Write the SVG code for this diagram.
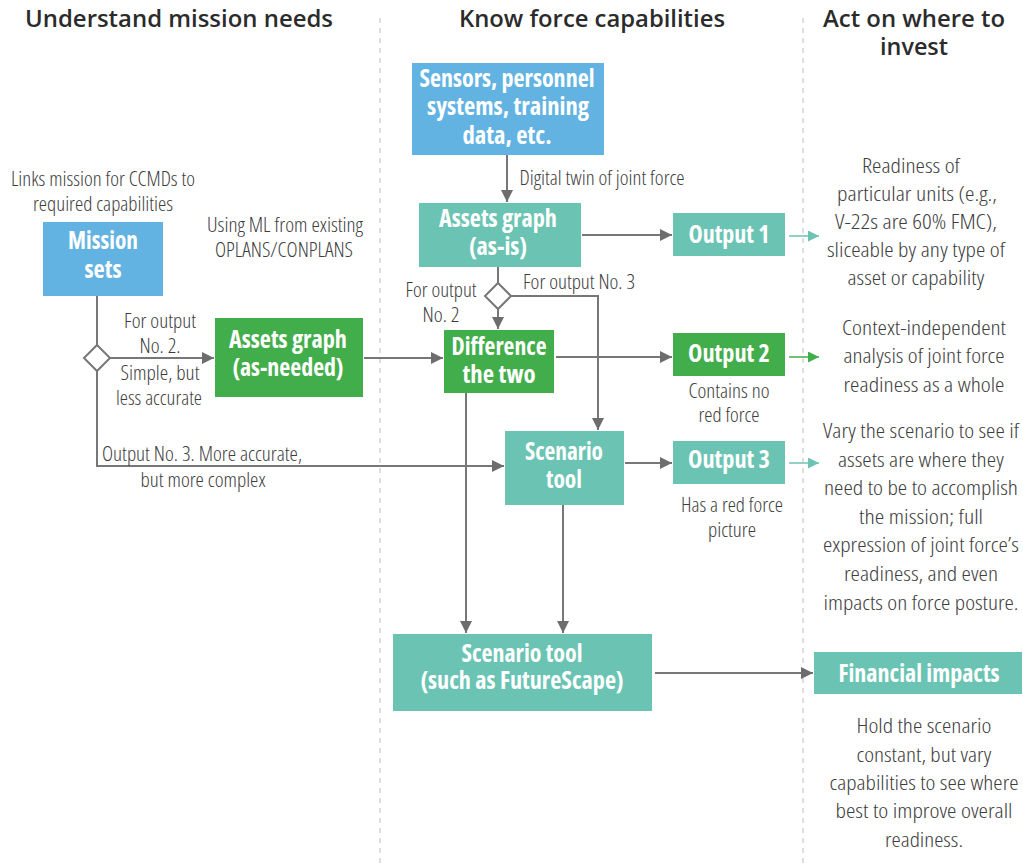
<svg xmlns="http://www.w3.org/2000/svg" width="1023" height="863" viewBox="0 0 1023 863">
<style>
.hd{font-family:"Open Sans","Liberation Sans",sans-serif;font-weight:600;font-size:23.5px;fill:#2b2b2b;text-anchor:middle}
.bx{font-family:"Open Sans","Liberation Sans",sans-serif;font-stretch:condensed;font-weight:700;font-size:24px;fill:#fff;text-anchor:middle}
.lb{font-family:"Open Sans","Liberation Sans",sans-serif;font-stretch:condensed;font-weight:300;font-size:20.5px;fill:#3d3d3d;text-anchor:middle}
.blue{fill:#62b3e2}
.teal{fill:#6bc4b3}
.green{fill:#42ae4b}
.ln{fill:none;stroke:#777;stroke-width:2}
.dash{stroke:#c8c8c8;stroke-width:1.2;stroke-dasharray:5 5}
.dia{fill:#fff;stroke:#777;stroke-width:2}
</style>
<defs>
<marker id="ag" markerUnits="userSpaceOnUse" markerWidth="13" markerHeight="13" refX="12" refY="6" orient="auto"><path d="M0,0 L12,6 L0,12 z" fill="#6d6d6d"/></marker>
<marker id="at" markerUnits="userSpaceOnUse" markerWidth="12" markerHeight="12" refX="11" refY="5.5" orient="auto"><path d="M0,0 L11,5.5 L0,11 z" fill="#6bc4b3"/></marker>
<marker id="agr" markerUnits="userSpaceOnUse" markerWidth="12" markerHeight="12" refX="11" refY="5.5" orient="auto"><path d="M0,0 L11,5.5 L0,11 z" fill="#42ae4b"/></marker>
</defs>
<rect width="1023" height="863" fill="#fff"/>
<g id="dividers">
<line class="dash" x1="380" y1="18" x2="380" y2="863"/>
<line class="dash" x1="803" y1="18" x2="803" y2="863"/>
</g>
<g id="headers">
<text class="hd" x="179" y="27" textLength="308" lengthAdjust="spacingAndGlyphs">Understand mission needs</text>
<text class="hd" x="592" y="27" textLength="266" lengthAdjust="spacingAndGlyphs">Know force capabilities</text>
<text class="hd" x="914" y="27" textLength="182" lengthAdjust="spacingAndGlyphs">Act on where to</text>
<text class="hd" x="914" y="55" textLength="68" lengthAdjust="spacingAndGlyphs">invest</text>
</g>
<g id="connectors">
<path class="ln" d="M507,155 L507,202" marker-end="url(#ag)"/>
<path class="ln" d="M582,235 L672,235" marker-end="url(#ag)"/>
<path class="ln" d="M498,267 L498,283"/>
<path class="ln" d="M498,309 L498,329" marker-end="url(#ag)"/>
<path class="ln" d="M511,296 L598,296 L598,430" marker-end="url(#ag)"/>
<path class="ln" d="M97,296 L97,345"/>
<path class="ln" d="M110,358 L214,358" marker-end="url(#ag)"/>
<path class="ln" d="M97,371 L97,466 L504,466" marker-end="url(#ag)"/>
<path class="ln" d="M364,358 L443,358" marker-end="url(#ag)"/>
<path class="ln" d="M556,357 L672,357" marker-end="url(#ag)"/>
<path class="ln" d="M466,393 L466,633" marker-end="url(#ag)"/>
<path class="ln" d="M625,463 L672,463" marker-end="url(#ag)"/>
<path class="ln" d="M563,505 L563,633" marker-end="url(#ag)"/>
<path class="ln" d="M655,673 L813,673" marker-end="url(#ag)"/>
<path d="M789,236 L819,236" stroke="#6bc4b3" stroke-width="1.5" marker-end="url(#at)"/>
<path d="M789,357 L819,357" stroke="#42ae4b" stroke-width="1.5" marker-end="url(#agr)"/>
<path d="M789,463 L819,463" stroke="#6bc4b3" stroke-width="1.5" marker-end="url(#at)"/>
<polygon class="dia" points="498,283 511,296 498,309 485,296"/>
<polygon class="dia" points="97,345 110,358 97,371 84,358"/>
<text class="lb" x="602" y="185" textLength="165" lengthAdjust="spacingAndGlyphs">Digital twin of joint force</text>
<text class="lb" x="441" y="297" textLength="71" lengthAdjust="spacingAndGlyphs">For output</text>
<text class="lb" x="441" y="322" textLength="37" lengthAdjust="spacingAndGlyphs">No. 2</text>
<text class="lb" x="579" y="289" textLength="112" lengthAdjust="spacingAndGlyphs">For output No. 3</text>
<text class="lb" x="160" y="328" textLength="72" lengthAdjust="spacingAndGlyphs">For output</text>
<text class="lb" x="160" y="353" textLength="41" lengthAdjust="spacingAndGlyphs">No. 2.</text>
<text class="lb" x="160" y="380" textLength="79" lengthAdjust="spacingAndGlyphs">Simple, but</text>
<text class="lb" x="159" y="405" textLength="86" lengthAdjust="spacingAndGlyphs">less accurate</text>
<text class="lb" x="202" y="461" textLength="200" lengthAdjust="spacingAndGlyphs">Output No. 3. More accurate,</text>
<text class="lb" x="203" y="487" textLength="125" lengthAdjust="spacingAndGlyphs">but more complex</text>
</g>
<g id="notes">
<text class="lb" x="103" y="186" textLength="184" lengthAdjust="spacingAndGlyphs">Links mission for CCMDs to</text>
<text class="lb" x="103" y="211" textLength="140" lengthAdjust="spacingAndGlyphs">required capabilities</text>
<text class="lb" x="285" y="232" textLength="156" lengthAdjust="spacingAndGlyphs">Using ML from existing</text>
<text class="lb" x="284" y="257" textLength="138" lengthAdjust="spacingAndGlyphs">OPLANS/CONPLANS</text>
<text class="lb" x="729" y="398" textLength="81" lengthAdjust="spacingAndGlyphs">Contains no</text>
<text class="lb" x="729" y="422" textLength="61" lengthAdjust="spacingAndGlyphs">red force</text>
<text class="lb" x="732" y="512" textLength="102" lengthAdjust="spacingAndGlyphs">Has a red force</text>
<text class="lb" x="732" y="537" textLength="48" lengthAdjust="spacingAndGlyphs">picture</text>
</g>
<g id="out1-text">
<text class="lb" x="911" y="173" textLength="98" lengthAdjust="spacingAndGlyphs">Readiness of</text>
<text class="lb" x="917" y="201" textLength="160" lengthAdjust="spacingAndGlyphs">particular units (e.g.,</text>
<text class="lb" x="916" y="229" textLength="162" lengthAdjust="spacingAndGlyphs">V-22s are 60% FMC),</text>
<text class="lb" x="916" y="257" textLength="178" lengthAdjust="spacingAndGlyphs">sliceable by any type of</text>
<text class="lb" x="916" y="285" textLength="137" lengthAdjust="spacingAndGlyphs">asset or capability</text>
</g>
<g id="out2-text">
<text class="lb" x="924" y="335" textLength="164" lengthAdjust="spacingAndGlyphs">Context-independent</text>
<text class="lb" x="924" y="363" textLength="161" lengthAdjust="spacingAndGlyphs">analysis of joint force</text>
<text class="lb" x="924" y="392" textLength="161" lengthAdjust="spacingAndGlyphs">readiness as a whole</text>
</g>
<g id="out3-text">
<text class="lb" x="921" y="438" textLength="196" lengthAdjust="spacingAndGlyphs">Vary the scenario to see if</text>
<text class="lb" x="921" y="467" textLength="166" lengthAdjust="spacingAndGlyphs">assets are where they</text>
<text class="lb" x="921" y="495" textLength="194" lengthAdjust="spacingAndGlyphs">need to be to accomplish</text>
<text class="lb" x="921" y="524" textLength="124" lengthAdjust="spacingAndGlyphs">the mission; full</text>
<text class="lb" x="921" y="552" textLength="196" lengthAdjust="spacingAndGlyphs">expression of joint force’s</text>
<text class="lb" x="921" y="581" textLength="154" lengthAdjust="spacingAndGlyphs">readiness, and even</text>
<text class="lb" x="921" y="610" textLength="195" lengthAdjust="spacingAndGlyphs">impacts on force posture.</text>
</g>
<g id="fin-text">
<text class="lb" x="924" y="733" textLength="135" lengthAdjust="spacingAndGlyphs">Hold the scenario</text>
<text class="lb" x="924" y="762" textLength="135" lengthAdjust="spacingAndGlyphs">constant, but vary</text>
<text class="lb" x="924" y="790" textLength="189" lengthAdjust="spacingAndGlyphs">capabilities to see where</text>
<text class="lb" x="924" y="818" textLength="177" lengthAdjust="spacingAndGlyphs">best to improve overall</text>
<text class="lb" x="924" y="847" textLength="78" lengthAdjust="spacingAndGlyphs">readiness.</text>
</g>
<g id="sensors">
<rect class="blue" x="412" y="63" width="192" height="92"/>
<text class="bx" x="507" y="87" textLength="175" lengthAdjust="spacingAndGlyphs">Sensors, personnel</text>
<text class="bx" x="508" y="115" textLength="162" lengthAdjust="spacingAndGlyphs">systems, training</text>
<text class="bx" x="507" y="144" textLength="89" lengthAdjust="spacingAndGlyphs">data, etc.</text>
</g>
<g id="mission-sets">
<rect class="blue" x="43" y="222" width="120" height="74"/>
<text class="bx" x="103" y="249" textLength="70" lengthAdjust="spacingAndGlyphs">Mission</text>
<text class="bx" x="103" y="278" textLength="37" lengthAdjust="spacingAndGlyphs">sets</text>
</g>
<g id="assets-as-is">
<rect class="teal" x="419" y="203" width="162" height="64"/>
<text class="bx" x="498" y="227" textLength="118" lengthAdjust="spacingAndGlyphs">Assets graph</text>
<text class="bx" x="498" y="255" textLength="58" lengthAdjust="spacingAndGlyphs">(as-is)</text>
</g>
<g id="output1">
<rect class="teal" x="673" y="213" width="112" height="43"/>
<text class="bx" x="729" y="243" textLength="81" lengthAdjust="spacingAndGlyphs">Output 1</text>
</g>
<g id="assets-as-needed">
<rect class="green" x="215" y="318" width="148" height="79"/>
<text class="bx" x="288" y="348" textLength="118" lengthAdjust="spacingAndGlyphs">Assets graph</text>
<text class="bx" x="288" y="376" textLength="111" lengthAdjust="spacingAndGlyphs">(as-needed)</text>
</g>
<g id="difference">
<rect class="green" x="444" y="330" width="110" height="63"/>
<text class="bx" x="499" y="355" textLength="95" lengthAdjust="spacingAndGlyphs">Difference</text>
<text class="bx" x="499" y="383" textLength="73" lengthAdjust="spacingAndGlyphs">the two</text>
</g>
<g id="output2">
<rect class="green" x="673" y="333" width="112" height="43"/>
<text class="bx" x="729" y="362" textLength="82" lengthAdjust="spacingAndGlyphs">Output 2</text>
</g>
<g id="scenario-tool">
<rect class="teal" x="505" y="431" width="119" height="74"/>
<text class="bx" x="564" y="460" textLength="78" lengthAdjust="spacingAndGlyphs">Scenario</text>
<text class="bx" x="564" y="488" textLength="36" lengthAdjust="spacingAndGlyphs">tool</text>
</g>
<g id="output3">
<rect class="teal" x="673" y="441" width="112" height="43"/>
<text class="bx" x="729" y="468" textLength="82" lengthAdjust="spacingAndGlyphs">Output 3</text>
</g>
<g id="scenario-futurescape">
<rect class="teal" x="393" y="634" width="259" height="77"/>
<text class="bx" x="522" y="662" textLength="121" lengthAdjust="spacingAndGlyphs">Scenario tool</text>
<text class="bx" x="522" y="689" textLength="203" lengthAdjust="spacingAndGlyphs">(such as FutureScape)</text>
</g>
<g id="financial-impacts">
<rect class="teal" x="814" y="652" width="208" height="42"/>
<text class="bx" x="919" y="682" textLength="161" lengthAdjust="spacingAndGlyphs">Financial impacts</text>
</g>
</svg>
